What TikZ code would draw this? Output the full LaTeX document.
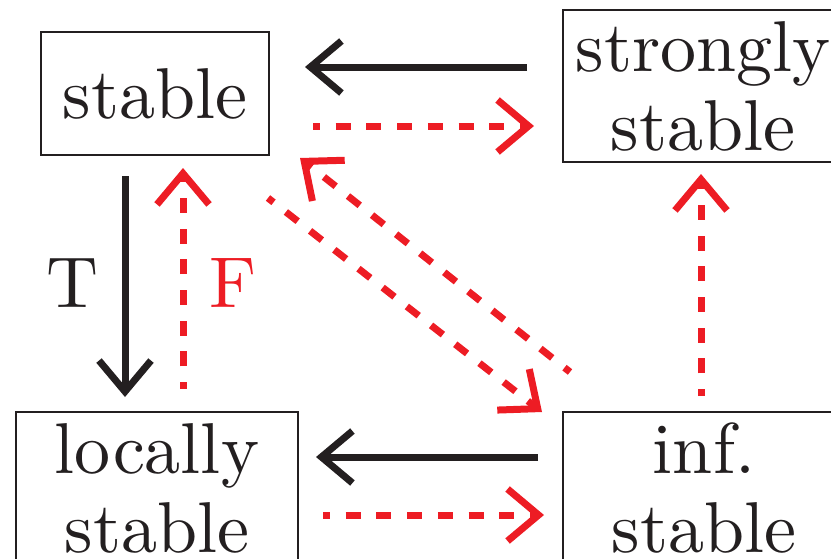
\documentclass[tikz,border=0pt]{standalone}
\usepackage{fontspec}
\setmainfont{lmroman10-regular}[Extension=.otf]
\usetikzlibrary{arrows.meta}
\definecolor{ink}{HTML}{231F20}
\definecolor{rd}{HTML}{ED1C24}
\begin{document}
\begin{tikzpicture}[x=1pt,y=-1pt,
  box/.style={draw=ink, line width=2.2pt, text=ink, font=\fontsize{72}{79}\selectfont, align=center, inner sep=0pt, outer sep=0pt},
  solidarr/.style={draw=ink, line width=7pt, -{Straight Barb[length=31pt,width=52pt]}},
  dasharr/.style={draw=rd, line width=7pt, dash pattern=on 15pt off 15.7pt, dash phase=8pt, -{Straight Barb[length=31pt,width=52pt]}},
  lbl/.style={font=\fontsize{72}{79}\selectfont, inner sep=0pt}]
\useasboundingbox (0,0) rectangle (831,558);
\node[box, minimum width=228pt, minimum height=123pt] (st) at (155,93.5) {stable};
\node[box, minimum width=280pt, minimum height=152pt] (ss) at (703,86) {strongly\\stable};
\node[box, minimum width=282pt, minimum height=152pt] (ls) at (157,488) {locally\\stable};
\node[box, minimum width=282pt, minimum height=152pt] (in) at (704,488) {inf.\\stable};
% top row
\draw[solidarr] ([xshift=-36pt,yshift=19pt]ss.west) -- ([xshift=36pt,yshift=26.5pt]st.east);
\draw[dasharr] ([xshift=44pt,yshift=-32.5pt]st.east) -- ([xshift=-29pt,yshift=-40pt]ss.west);
% left column
\draw[solidarr] ([xshift=-30pt,yshift=-21pt]st.south) -- node[lbl, text=ink, xshift=-53pt, yshift=3pt]{T} ([xshift=-32pt,yshift=15pt]ls.north);
\draw[dasharr] ([xshift=26pt,yshift=23pt]ls.north) -- node[lbl, text=rd, xshift=50pt, yshift=-5pt]{F} ([xshift=28pt,yshift=-13pt]st.south);
% right column
\draw[dasharr] ([xshift=-3pt,yshift=16pt]in.north) -- ([xshift=-2pt,yshift=-12pt]ss.south);
% diagonals
\draw[dasharr] ([xshift=-1pt,yshift=-43pt]st.south east) -- ([xshift=-21pt]in.north west);
\draw[dasharr] ([xshift=7pt,yshift=40pt]in.north west) -- ([xshift=31pt,yshift=-3pt]st.south east);
% bottom row
\draw[solidarr] ([xshift=-25pt,yshift=31pt]in.west) -- ([xshift=18pt,yshift=31pt]ls.east);
\draw[dasharr] ([xshift=25pt,yshift=-27pt]ls.east) -- ([xshift=-19pt,yshift=-27pt]in.west);
\end{tikzpicture}
\end{document}
